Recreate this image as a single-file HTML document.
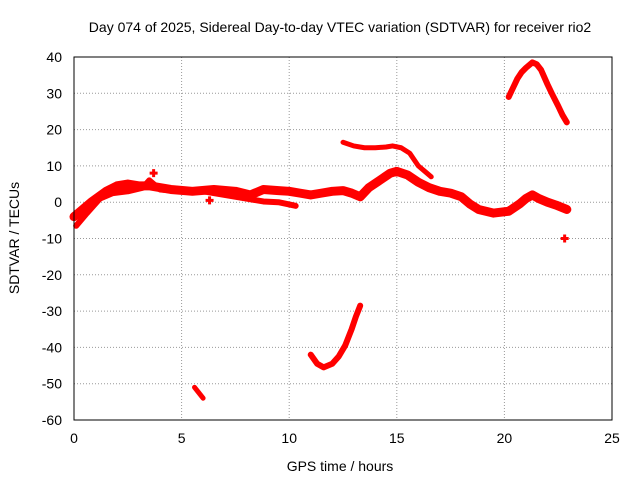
<!DOCTYPE html>
<html><head><meta charset="utf-8"><style>
body{margin:0;background:#fff;}
svg{display:block;font-family:"Liberation Sans",sans-serif;}
</style></head><body>
<svg id="chart" width="640" height="480">
<text x="340" y="32" font-size="14" text-anchor="middle">Day 074 of 2025, Sidereal Day-to-day VTEC variation (SDTVAR) for receiver rio2</text>
<text x="340" y="471" font-size="14" text-anchor="middle">GPS time / hours</text>
<text x="19" y="238" font-size="14" text-anchor="middle" transform="rotate(-90 19 238)">SDTVAR / TECUs</text>
<g id="grid"></g><g id="series"></g>
<rect x="74" y="57" width="538" height="363" fill="none" stroke="#000"/>
</svg>
<script>
const xTicks=[0,5,10,15,20,25];
const yTicks=[40,30,20,10,0,-10,-20,-30,-40,-50,-60];
const mainBand=[[0,-4],[0.3,-2.5],[0.8,0],[1.5,3],[2,4.5],[2.5,5],[3,4.5],[3.5,4.5],[4.5,3.5],[5.5,3],[6.5,3.5],[7.5,3],[8.2,2],[8.8,3.5],[9.5,3.2],[10,3],[10.5,2.5],[11,2],[11.5,2.5],[12,3],[12.5,3.2],[12.9,2.5],[13.3,1.5],[13.7,4],[14.2,6],[14.7,8],[15,8.5],[15.5,7.5],[16,5.5],[16.5,4],[17,3],[17.5,2.5],[18,1.5],[18.4,-0.5],[18.8,-2],[19.5,-3],[20.2,-2.5],[20.7,-0.5],[21,1],[21.3,2],[21.6,1],[22,0],[22.4,-0.8],[22.9,-2]];
const secondBand=[[0.1,-6.5],[0.6,-3],[1.2,1],[1.8,2.5],[2.5,3],[3.2,4],[3.5,6],[4,3.5],[5,3],[6,3],[7,2],[8,1],[8.8,0.2],[9.5,0],[10.3,-1]];
const upperArc=[[12.5,16.5],[13,15.5],[13.5,15],[14,15],[14.5,15.2],[14.8,15.5],[15.2,15],[15.6,13.5],[16,10],[16.3,8.5],[16.6,7]];
const peakArc=[[20.2,29],[20.4,31.5],[20.6,34],[20.8,35.8],[21,37],[21.3,38.5],[21.5,38],[21.7,36.5],[22,32.5],[22.2,30],[22.5,26.5],[22.7,24],[22.9,22]];
const lowArc=[[11,-42],[11.3,-44.5],[11.6,-45.5],[12,-44.5],[12.3,-42.5],[12.6,-39.5],[12.9,-35],[13.1,-31.5],[13.3,-28.5]];
const shortSeg=[[5.6,-51],[6,-54]];
const dots=[[22.8,-10],[6.3,0.5],[3.7,8]];
const X=v=>74+v*538/25, Y=v=>57+(40-v)*363/100;
const ns="http://www.w3.org/2000/svg";
const g=document.getElementById('grid'), s=document.getElementById('series');
function mk(t,a,p){const e=document.createElementNS(ns,t);for(const k in a)e.setAttribute(k,a[k]);p.appendChild(e);return e;}
xTicks.forEach(t=>{
 if(t>0&&t<25){const l=mk('line',{x1:X(t),x2:X(t),y1:57,y2:420,stroke:'#999','stroke-dasharray':'1,2'},g);
 
 }
 const tx=mk('text',{x:X(t),y:443,'font-size':14,'text-anchor':'middle'},g);tx.textContent=t;
 
 
});
yTicks.forEach(t=>{
 if(t<40&&t>-60){const l=mk('line',{x1:74,x2:612,y1:Y(t),y2:Y(t),stroke:'#999','stroke-dasharray':'1,2'},g);
 
 }
 const tx=mk('text',{x:62,y:Y(t)+5,'font-size':14,'text-anchor':'end'},g);tx.textContent=t;
 
 
});
function draw(arr,name,w){
 const p=mk('polyline',{points:arr.map(d=>X(d[0])+','+Y(d[1])).join(' '),fill:'none',stroke:'#f00','stroke-width':w,'stroke-linejoin':'round','stroke-linecap':'round'},s);
 
 
}
draw(mainBand,'main-band-series',9);
draw(secondBand,'second-band-series',6);
draw(upperArc,'upper-arc-series',5);
draw(peakArc,'peak-arc-series',6);
draw(lowArc,'low-arc-series',6);
draw(shortSeg,'short-segment-series',5);
dots.forEach(d=>{
 const p=mk('path',{d:`M${X(d[0])-4},${Y(d[1])}h8M${X(d[0])},${Y(d[1])-4}v8`,stroke:'#f00','stroke-width':3},s);
 
 
});
</script>
</body></html>
